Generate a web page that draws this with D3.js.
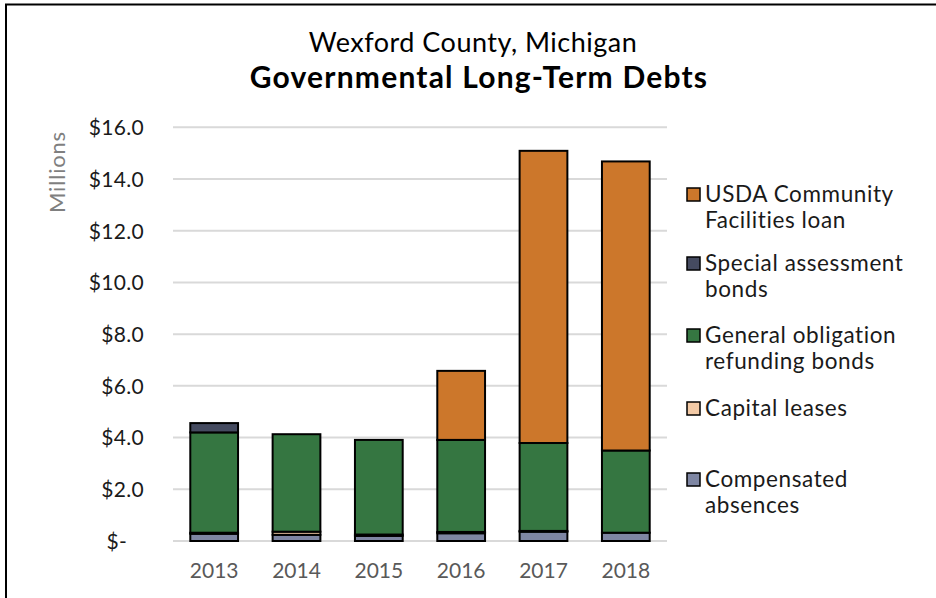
<!DOCTYPE html>
<html>
<head>
<meta charset="utf-8">
<script src="https://cdn.jsdelivr.net/npm/d3@7"></script>
<style>
  html, body { margin: 0; padding: 0; background: #fff; }
  svg { display: block; font-family: Lato, "Open Sans", sans-serif; }
</style>
</head>
<body>
<svg id="chart" width="936" height="598"></svg>
<script>
// ---- data (millions of dollars) ----
const years = ["2013", "2014", "2015", "2016", "2017", "2018"];
const compensatedAbsences = [0.28, 0.24, 0.20, 0.30, 0.36, 0.32];
const capitalLeases       = [0.04, 0.12, 0.05, 0.05, 0.03, 0.00];
const generalObligation   = [3.88, 3.77, 3.66, 3.56, 3.40, 3.18];
const specialAssessment   = [0.36, 0.00, 0.00, 0.00, 0.00, 0.00];
const usdaLoan            = [0.00, 0.00, 0.00, 2.67, 11.30, 11.18];
const yTicks = [0, 2, 4, 6, 8, 10, 12, 14, 16];
const seriesNames = ["Compensated absences", "Capital leases", "General obligation refunding bonds", "Special assessment bonds", "USDA Community Facilities loan"];
const seriesValues = [compensatedAbsences, capitalLeases, generalObligation, specialAssessment, usdaLoan];
const seriesColors = ["#7e86a3", "#f3caa6", "#357641", "#454b60", "#cc772b"];
const legendLines = [
  ["USDA Community", "Facilities loan"],
  ["Special assessment", "bonds"],
  ["General obligation", "refunding bonds"],
  ["Capital leases"],
  ["Compensated", "absences"]
];

const svg = d3.select("#chart");

// outer border (cut off at right/bottom like the reference)
svg.append("rect").attr("x", 6).attr("y", 4.5).attr("width", 960).attr("height", 640)
  .attr("fill", "none").attr("stroke", "#000").attr("stroke-width", 2);

// title
svg.append("text").attr("x", 473).attr("y", 52).attr("text-anchor", "middle")
  .attr("font-size", 27).attr("letter-spacing", 0.5).attr("fill", "#000").text("Wexford County, Michigan");
svg.append("text").attr("x", 479).attr("y", 88).attr("text-anchor", "middle")
  .attr("font-size", 30).attr("letter-spacing", 1.2).attr("font-weight", "bold").attr("fill", "#000").text("Governmental Long-Term Debts");

const x = d3.scaleBand().domain(years).range([173, 667]).paddingInner(0.42).paddingOuter(0.21);
const y = d3.scaleLinear().domain([0, 16]).range([541, 127.3]);

// gridlines
svg.append("g").selectAll("line").data(yTicks).join("line")
  .attr("x1", 173).attr("x2", 667)
  .attr("y1", d => y(d)).attr("y2", d => y(d))
  .attr("stroke", "#d9d9d9").attr("stroke-width", 2);

// y axis labels
const yAxis = d3.axisLeft(y).tickValues(yTicks).tickSize(0).tickPadding(0)
  .tickFormat(d => d === 0 ? "$-" : "$" + d3.format(".1f")(d));
const gy = svg.append("g").attr("transform", "translate(144,0)").call(yAxis);
gy.select(".domain").remove();
gy.selectAll("text").attr("font-size", 21).attr("letter-spacing", 0.3).attr("fill", "#1a1a1a")
  .attr("font-family", "Lato, 'Open Sans', sans-serif").attr("dy", "0.35em");
// "$-" is placed a bit to the left in Excel accounting format
gy.selectAll(".tick").filter(d => d === 0).select("text").attr("x", -17);

// x axis labels
const xAxis = d3.axisBottom(x).tickSize(0).tickPadding(0);
const gx = svg.append("g").attr("transform", "translate(0,563)").call(xAxis);
gx.select(".domain").remove();
gx.selectAll("text").attr("font-size", 21).attr("fill", "#595959")
  .attr("font-family", "Lato, 'Open Sans', sans-serif").attr("dy", "0.71em");

// y title
svg.append("text").attr("transform", "translate(65,172) rotate(-90)")
  .attr("text-anchor", "middle").attr("font-size", 22).attr("letter-spacing", 0.8).attr("fill", "#7f7f7f").text("Millions");

// stacked bars
const rows = years.map((yr, i) => {
  const r = { year: yr };
  seriesNames.forEach((s, k) => r[s] = seriesValues[k][i]);
  return r;
});
const stacked = d3.stack().keys(seriesNames)(rows);
const gBars = svg.append("g");
stacked.forEach((layer, k) => {
  gBars.append("g").selectAll("rect").data(layer.filter(d => d[1] - d[0] > 0)).join("rect")
    .attr("x", d => x(d.data.year))
    .attr("width", x.bandwidth())
    .attr("y", d => y(d[1]))
    .attr("height", d => y(d[0]) - y(d[1]))
    .attr("fill", seriesColors[k])
    .attr("stroke", "#000").attr("stroke-width", 2);
});

// legend
const legendTop = [188, 257, 329, 402, 473];
const legendOrder = [4, 3, 2, 1, 0];
const gl = svg.append("g");
legendOrder.forEach((k, i) => {
  const top = legendTop[i];
  gl.append("rect").attr("x", 687).attr("y", top).attr("width", 13).attr("height", 13)
    .attr("fill", seriesColors[k]).attr("stroke", "#000").attr("stroke-width", 1.5);
  const t = gl.append("text").attr("x", 705).attr("y", top + 14)
    .attr("font-size", 22.5).attr("letter-spacing", 0.6).attr("fill", "#1a1a1a");
  legendLines[i].forEach((ln, j) => {
    t.append("tspan").attr("x", 705).attr("dy", j === 0 ? 0 : 26).text(ln);
  });
});
</script>
</body>
</html>
